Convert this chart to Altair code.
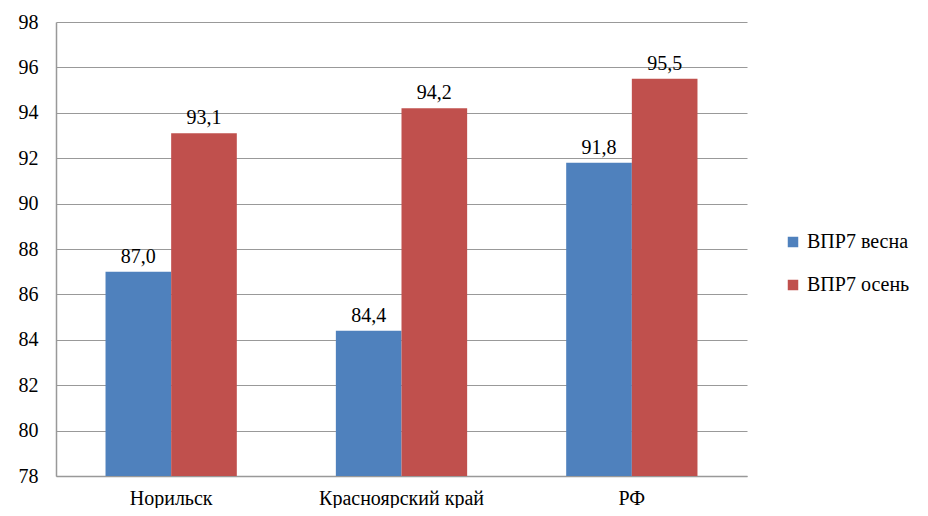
import altair as alt
import pandas as pd

categories = ["Норильск", "Красноярский край", "РФ"]
series = ["ВПР7 весна", "ВПР7 осень"]
spring = [87.0, 84.4, 91.8]
autumn = [93.1, 94.2, 95.5]
colors = ["#4F81BD", "#C0504D"]

rows = []
for i, c in enumerate(categories):
    for s, vals in zip(series, [spring, autumn]):
        rows.append({"cat": c, "series": s, "value": vals[i],
                     "label": f"{vals[i]:.1f}".replace(".", ",")})
df = pd.DataFrame(rows)

FONT = "Liberation Serif, Times New Roman, serif"

x = alt.X("cat:N", sort=categories, title=None,
          scale=alt.Scale(paddingInner=0.43, paddingOuter=0.215),
          axis=alt.Axis(labelAngle=0, ticks=False, domainColor="#999999",
                        labelFontSize=20, labelPadding=12, labelColor="black",
                        labelFont=FONT))
y = alt.Y("value:Q", title=None,
          scale=alt.Scale(domain=[78, 98], zero=False, nice=False),
          axis=alt.Axis(values=list(range(78, 99, 2)), ticks=False,
                        domainColor="#999999", gridColor="#999999",
                        labelFontSize=20, labelPadding=18, labelColor="black",
                        labelFont=FONT))
xo = alt.XOffset("series:N", sort=series)

bars = alt.Chart(df).mark_bar(clip=True).encode(
    x=x, y=y, xOffset=xo,
    color=alt.Color("series:N", sort=series,
                    scale=alt.Scale(domain=series, range=colors),
                    legend=alt.Legend(title=None, orient="none", legendX=727,
                                      legendY=210, symbolType="square",
                                      symbolSize=110, labelFontSize=20,
                                      labelFont=FONT, rowPadding=23,
                                      labelColor="black", symbolStrokeWidth=0)),
)

text = alt.Chart(df).mark_text(baseline="bottom", dy=-5, fontSize=20,
                               font=FONT, color="black").encode(
    x=alt.X("cat:N", sort=categories), y="value:Q", xOffset=xo, text="label:N"
)

chart = alt.layer(bars, text).properties(
    width=691, height=454,
    autosize=alt.AutoSizeParams(type="none"),
    padding={"left": 48, "top": 14, "right": 173, "bottom": 32},
).configure_view(stroke=None).configure_axis(gridWidth=1, domainWidth=1.5)

chart.save("out.html", embed_options={"renderer": "svg", "actions": False})
